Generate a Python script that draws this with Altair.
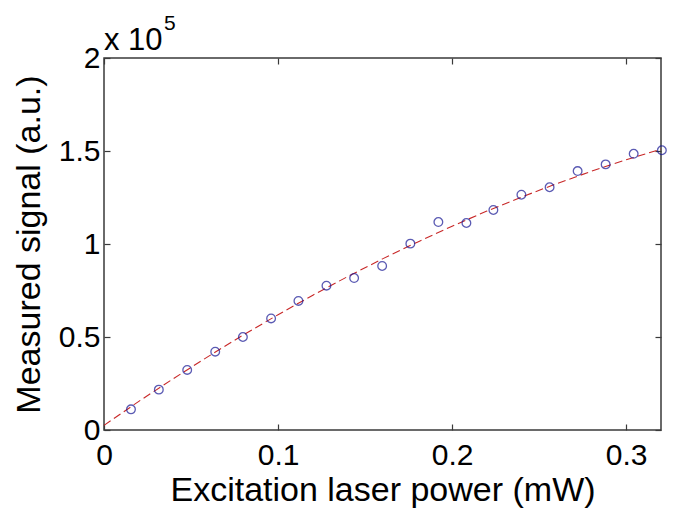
import altair as alt
import pandas as pd

# measured data (x in mW, y in units of 1e5)
power = [0.0155, 0.0315, 0.0478, 0.0639, 0.0798, 0.0960, 0.1117, 0.1278, 0.1437, 0.1598,
         0.1760, 0.1921, 0.2082, 0.2237, 0.2398, 0.2560, 0.2721, 0.2882, 0.3043, 0.3205]
signal = [0.111, 0.217, 0.323, 0.421, 0.500, 0.600, 0.694, 0.776, 0.817, 0.882,
          1.002, 1.118, 1.113, 1.183, 1.265, 1.305, 1.392, 1.428, 1.485, 1.504]

# fitted curve
fit_power = [0.0, 0.02, 0.04, 0.06, 0.08, 0.10, 0.12, 0.14, 0.16, 0.18,
             0.20, 0.22, 0.24, 0.26, 0.28, 0.30, 0.32]
fit_signal = [0.025, 0.154, 0.277, 0.396, 0.511, 0.620, 0.725, 0.825, 0.920, 1.010,
              1.096, 1.177, 1.253, 1.324, 1.391, 1.453, 1.510]

x_ticks = [0, 0.1, 0.2, 0.3]
y_ticks = [0, 0.5, 1, 1.5, 2]

FONT = "Liberation Sans, Arial, sans-serif"
AX = "#3a3a3a"

pts = pd.DataFrame({"p": power, "s": signal})
fit = pd.DataFrame({"p": fit_power, "s": fit_signal})
ann = pd.DataFrame({"p": [0.0], "s": [2.0]})

xscale = alt.Scale(domain=[0, 0.32], nice=False, zero=False)
yscale = alt.Scale(domain=[0, 2], nice=False, zero=False)

common_axis = dict(grid=False, domain=False, ticks=True, tickSize=6, tickColor=AX,
                   tickWidth=1.2, offset=-6, labelFont=FONT, labelFontSize=30,
                   labelColor="black", labelFlush=False, labelOverlap=False,
                   titleFont=FONT, titleFontSize=34, titleFontWeight="normal",
                   titleColor="black")

line = alt.Chart(fit).mark_line(color="#c82828", strokeDash=[8, 4], strokeWidth=1.1).encode(
    x=alt.X("p:Q", scale=xscale,
            axis=alt.Axis(orient="bottom", values=x_ticks, format="~g",
                          title="Excitation laser power (mW)", labelPadding=10,
                          titlePadding=3, **common_axis)),
    y=alt.Y("s:Q", scale=yscale,
            axis=alt.Axis(orient="left", values=y_ticks, format="~g",
                          title="Measured signal (a.u.)", labelPadding=4,
                          titlePadding=12, **common_axis)),
)

points = alt.Chart(pts).mark_point(shape="circle", filled=False, color="#161694",
                                   size=75, strokeWidth=1.3).encode(
    x=alt.X("p:Q", scale=xscale,
            axis=alt.Axis(orient="top", values=x_ticks, labels=False, title=None,
                          grid=False, domain=False, tickSize=6, tickColor=AX,
                          tickWidth=1.2, offset=-6)),
    y=alt.Y("s:Q", scale=yscale,
            axis=alt.Axis(orient="right", values=y_ticks, labels=False, title=None,
                          grid=False, domain=False, tickSize=6, tickColor=AX,
                          tickWidth=1.2, offset=-6)),
)

mult = alt.Chart(ann).mark_text(text="x 10", font=FONT, fontSize=31, align="left",
                                baseline="alphabetic", dy=-8, dx=0, color="black").encode(
    x=alt.X("p:Q", scale=xscale, axis=None),
    y=alt.Y("s:Q", scale=yscale, axis=None),
)
expo = alt.Chart(ann).mark_text(text="5", font=FONT, fontSize=21, align="left",
                                baseline="alphabetic", dy=-28, dx=60, color="black").encode(
    x=alt.X("p:Q", scale=xscale, axis=None),
    y=alt.Y("s:Q", scale=yscale, axis=None),
)

chart = alt.layer(line, points, mult, expo).resolve_axis(
    x="independent", y="independent"
).properties(
    width=557, height=372,
    autosize=alt.AutoSizeParams(type="none"),
    padding={"left": 96, "top": 50, "right": 7, "bottom": 79},
).configure_view(stroke=AX, strokeWidth=1.5)

chart.save("out.html", embed_options={"renderer": "svg", "actions": False})
